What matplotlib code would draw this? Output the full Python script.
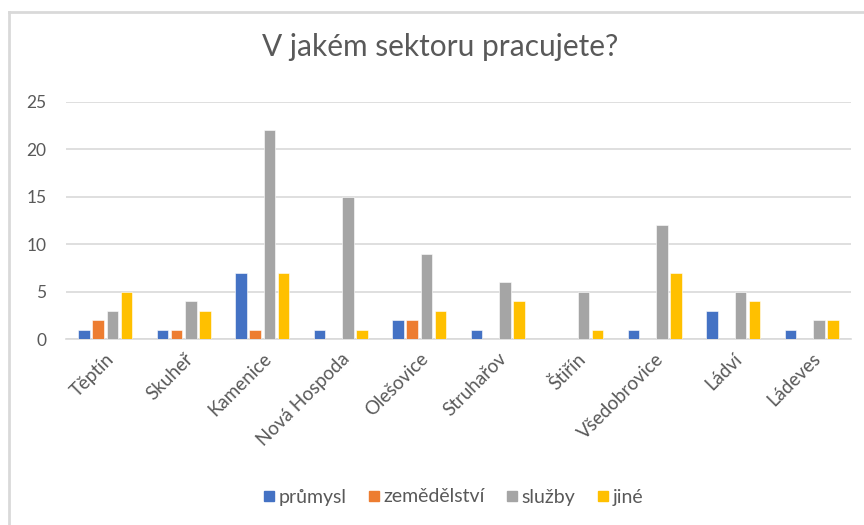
import matplotlib.pyplot as plt
import numpy as np
from matplotlib.lines import Line2D

plt.rcParams['font.family'] = ['Lato', 'DejaVu Sans']

# obce a odpovedi
obce = ["Těptín", "Skuheř", "Kamenice", "Nová Hospoda", "Olešovice",
        "Struhařov", "Štiřín", "Všedobrovice", "Ládví", "Ládeves"]
prumysl = [1, 1, 7, 1, 2, 1, 0, 1, 3, 1]
zemedelstvi = [2, 1, 1, 0, 2, 0, 0, 0, 0, 0]
sluzby = [3, 4, 22, 15, 9, 6, 5, 12, 5, 2]
jine = [5, 3, 7, 1, 3, 4, 1, 7, 4, 2]

serie = [("průmysl", prumysl, "#4472C4"),
         ("zemědělství", zemedelstvi, "#ED7D31"),
         ("služby", sluzby, "#A5A5A5"),
         ("jiné", jine, "#FFC000")]

seda = "#595959"
mrizka = "#D9D9D9"

fig = plt.figure(figsize=(8.64, 5.25), dpi=100)
ax = fig.add_axes([66 / 864, 1 - 339 / 525, (851 - 66) / 864, (339 - 102) / 525])

x = np.arange(len(obce))
krok = 0.182
sirka = 0.148
for i, (nazev, hodnoty, barva) in enumerate(serie):
    ax.bar(x + (i - 1.5) * krok, hodnoty, sirka, color=barva, label=nazev,
           edgecolor="white", linewidth=0.4, zorder=3)

ax.set_xlim(-0.5, len(obce) - 0.5)
ax.set_ylim(0, 25)
ax.set_yticks(range(0, 26, 5))
ax.grid(axis="y", color=mrizka, linewidth=1.2, zorder=0)
for s in ["left", "right", "top"]:
    ax.spines[s].set_visible(False)
ax.spines["bottom"].set_color(mrizka)
ax.spines["bottom"].set_linewidth(1.2)
ax.tick_params(length=0, colors=seda)
ax.tick_params(axis="y", pad=14, labelsize=12.5)
ax.set_xticks(x)
ax.set_xticklabels(obce, rotation=45, ha="right", rotation_mode="anchor", fontsize=13.5)
ax.tick_params(axis="x", pad=8)

fig.text(0.51, 1 - 47 / 525, "V jakém sektoru pracujete?", ha="center", va="center",
         fontsize=21.5, color=seda)

handles = [Line2D([], [], marker="s", linestyle="none", markersize=7,
                  markerfacecolor=b, markeredgecolor=b) for _, _, b in serie]
fig.legend(handles, [n for n, _, _ in serie], loc="center", bbox_to_anchor=(0.523, 1 - 497 / 525),
           ncol=4, frameon=False, fontsize=14, labelcolor=seda, handletextpad=0.1,
           columnspacing=1.0, handlelength=0.8)

# okraj grafu vlevo a nahore
fig.add_artist(Line2D([9 / 864, 9 / 864], [0, 1 - 12 / 525], color=mrizka, linewidth=2))
fig.add_artist(Line2D([9 / 864, 1], [1 - 12 / 525, 1 - 12 / 525], color=mrizka, linewidth=2))

fig.savefig("out.png", dpi=100)
